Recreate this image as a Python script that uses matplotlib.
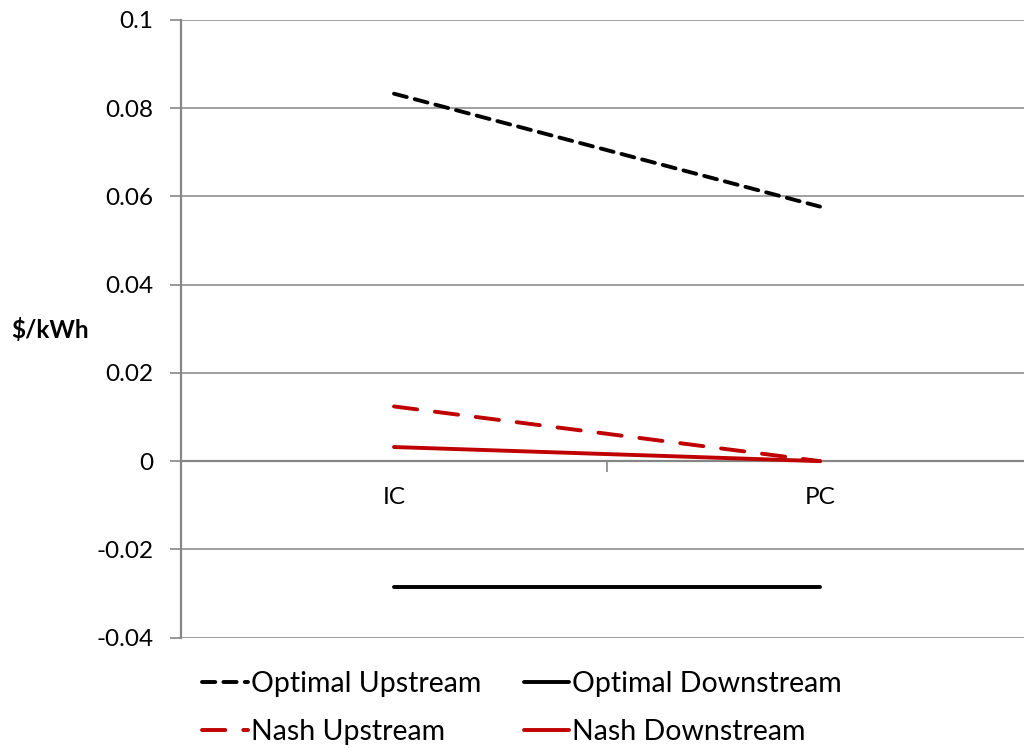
import matplotlib
matplotlib.use("Agg")
import matplotlib.pyplot as plt

plt.rcParams['font.family'] = ['Lato', 'DejaVu Sans']

categories = ["IC", "PC"]
optimal_upstream = [0.0833, 0.0577]
optimal_downstream = [-0.0285, -0.0285]
nash_upstream = [0.0124, 0.0]
nash_downstream = [0.0032, 0.0]

yticks = [-0.04, -0.02, 0, 0.02, 0.04, 0.06, 0.08, 0.1]
ytick_labels = ["-0.04", "-0.02", "0", "0.02", "0.04", "0.06", "0.08", "0.1"]

grey = "#868686"
red = "#C00000"

fig = plt.figure(figsize=(10.24, 7.48), dpi=100)
ax = fig.add_axes([181 / 1024, 1 - 637.6 / 748, 852 / 1024, 617.6 / 748])

x = list(range(len(categories)))
ax.plot(x, optimal_upstream, color="black", lw=2.8, dashes=(3.4, 2.1),
        label="Optimal Upstream", solid_capstyle="round", dash_capstyle="round")
ax.plot(x, optimal_downstream, color="black", lw=2.8, label="Optimal Downstream",
        solid_capstyle="round")
ax.plot(x, nash_upstream, color=red, lw=2.8, dashes=(6.0, 4.6),
        label="Nash Upstream", dash_capstyle="round")
ax.plot(x, nash_downstream, color=red, lw=2.8, label="Nash Downstream",
        solid_capstyle="round")

ax.set_xlim(-0.5, 1.5)
ax.set_ylim(-0.04, 0.1)
ax.set_yticks(yticks)
ax.set_yticklabels(ytick_labels)
ax.yaxis.grid(True, color=grey, lw=1.1)
ax.set_axisbelow(True)

# category axis sits at y = 0, with one tick between the categories
ax.spines["bottom"].set_position(("data", 0))
ax.spines["bottom"].set_color(grey)
ax.spines["bottom"].set_linewidth(1.6)
ax.spines["bottom"].set_zorder(1)
ax.set_xticks([0.5])
ax.set_xticklabels([""])
ax.tick_params(axis="x", length=8, color=grey, width=1.2)
for xi, lab in zip(x, categories):
    ax.text(xi, -0.0082, lab, ha="center", va="center", fontsize=17.5)

for s in ["top", "right"]:
    ax.spines[s].set_visible(False)
ax.spines["left"].set_color(grey)
ax.spines["left"].set_linewidth(1.6)
ax.tick_params(axis="y", length=8, color=grey, width=1.2, labelsize=17.5, pad=12)

fig.text(50 / 1024, 1 - 330 / 748, "$/kWh", fontsize=17.5, fontweight="bold",
         ha="center", va="center")

handles, labels = ax.get_legend_handles_labels()
order = [0, 2, 1, 3]
fig.legend([handles[i] for i in order], [labels[i] for i in order], ncol=2,
           loc="center left", bbox_to_anchor=(188 / 1024, 1 - 708 / 748),
           frameon=False, fontsize=20.5, handlelength=1.6, handletextpad=0.1,
           columnspacing=1.5, labelspacing=0.75, borderpad=0)

fig.savefig("out.png", dpi=100)
